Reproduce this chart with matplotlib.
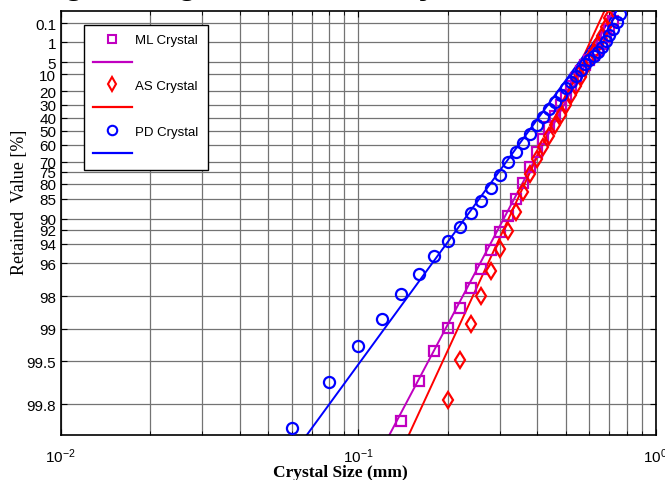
import numpy as np
import matplotlib
matplotlib.use("Agg")
import matplotlib.pyplot as plt
from matplotlib.lines import Line2D
from matplotlib.ticker import FixedLocator, FixedFormatter, LogLocator, NullFormatter

# sieve sizes (mm) and retained values (%)
pd_size = [0.06, 0.08, 0.10, 0.12, 0.14, 0.16, 0.18, 0.20, 0.22, 0.24, 0.26, 0.28,
           0.30, 0.32, 0.34, 0.36, 0.38, 0.40, 0.42, 0.44, 0.46, 0.48, 0.50, 0.52,
           0.54, 0.56, 0.58, 0.60, 0.62, 0.64, 0.66, 0.68, 0.70, 0.72, 0.74, 0.76]
pd_ret = [99.88, 99.68, 99.31, 98.76, 97.91, 96.81, 95.38, 93.70, 91.59, 88.69, 85.58, 81.70,
          76.23, 70.32, 64.30, 58.40, 52.11, 45.79, 39.58, 33.30, 27.48, 22.32, 17.86, 13.81,
          10.54, 7.75, 5.63, 4.36, 3.29, 2.33, 1.53, 0.91, 0.475, 0.229, 0.086, 0.023]

ml_size = [0.14, 0.16, 0.18, 0.20, 0.22, 0.24, 0.26, 0.28, 0.30, 0.32, 0.34, 0.36,
           0.38, 0.40, 0.42, 0.44, 0.46, 0.48, 0.50, 0.52, 0.54, 0.56, 0.58, 0.60,
           0.62, 0.64, 0.66, 0.68, 0.70, 0.72]
ml_ret = [99.86, 99.67, 99.37, 98.99, 98.45, 97.63, 96.46, 94.73, 92.36, 89.42, 85.15, 79.75,
          72.72, 64.46, 56.03, 47.28, 38.77, 30.17, 22.66, 16.55, 11.83, 8.40, 5.97, 4.36,
          3.06, 2.06, 1.215, 0.595, 0.229, 0.074]

as_size = [0.20, 0.22, 0.24, 0.26, 0.28, 0.30, 0.32, 0.34, 0.36, 0.38, 0.40, 0.42,
           0.44, 0.46, 0.48, 0.50, 0.52, 0.54, 0.56, 0.58, 0.60, 0.62, 0.64, 0.66,
           0.68, 0.70]
as_ret = [99.78, 99.48, 98.89, 97.98, 96.61, 94.63, 92.16, 88.60, 83.07, 76.02, 68.53, 61.38,
          53.93, 45.79, 38.00, 30.17, 22.66, 16.55, 11.31, 7.13, 4.36, 2.43, 1.215, 0.534,
          0.175, 0.046]

# Rosin-Rammler fit lines: characteristic size x0 (mm) and uniformity n
ml_fit = (0.475, 5.22)
as_fit = (0.467, 5.98)
pd_fit = (0.414, 3.78)

yticks = [0.1, 1, 5, 10, 20, 30, 40, 50, 60, 70, 75, 80, 85, 90, 92, 94, 96, 98, 99, 99.5, 99.8]
ytick_labels = ["0.1", "1", "5", "10", "20", "30", "40", "50", "60", "70", "75", "80", "85",
                "90", "92", "94", "96", "98", "99", "99.5", "99.8"]


def rr_forward(r):
    r = np.clip(np.asarray(r, dtype=float), 1e-9, 100 - 1e-9) / 100.0
    return -np.log(-np.log(r))


def rr_inverse(t):
    return 100.0 * np.exp(-np.exp(-np.asarray(t, dtype=float)))


def rr_line(x, fit):
    x0, n = fit
    return 100.0 * np.exp(-((x / x0) ** n))


plt.rcParams["font.family"] = ["Liberation Sans", "DejaVu Sans"]
plt.rcParams["mathtext.default"] = "regular"

fig = plt.figure(figsize=(6.65, 4.81), dpi=100)
ax = fig.add_axes([60.5 / 665, 1 - 436 / 481, 595 / 665, 424 / 481])

ax.set_xscale("log")
ax.set_yscale("function", functions=(rr_forward, rr_inverse))

xs = np.logspace(-2, 0, 600)
series = [
    (ml_size, ml_ret, ml_fit, "#c000c0", "s", 7.5, "ML Crystal"),
    (as_size, as_ret, as_fit, "#ff0000", "d", 8.5, "AS Crystal"),
    (pd_size, pd_ret, pd_fit, "#0000ff", "o", 8, "PD Crystal"),
]
handles, labels = [], []
for size, ret, fit, col, mk, ms, name in series:
    ax.plot(size, ret, ls="none", marker=mk, ms=ms, mfc="none", mec=col, mew=1.6, zorder=3)
    ax.plot(xs, rr_line(xs, fit), color=col, lw=1.4, zorder=2)
    handles.append(Line2D([], [], ls="none", marker=mk, ms=ms * 0.85,
                          mfc="none", mec=col, mew=1.5))
    labels.append(name)
    handles.append(Line2D([], [], color=col, lw=1.6))
    labels.append(" ")

ax.set_xlim(0.01, 1)
ax.set_ylim(99.896, 0.0132)

ax.yaxis.set_major_locator(FixedLocator(yticks))
ax.yaxis.set_major_formatter(FixedFormatter(ytick_labels))
ax.yaxis.set_minor_locator(FixedLocator([]))
ax.xaxis.set_major_locator(FixedLocator([0.01, 0.1, 1]))
ax.xaxis.set_major_formatter(FixedFormatter(["$10^{-2}$", "$10^{-1}$", "$10^{0}$"]))
ax.xaxis.set_minor_locator(LogLocator(base=10, subs=np.arange(2, 10)))
ax.xaxis.set_minor_formatter(NullFormatter())

ax.grid(True, which="major", color="0.45", lw=0.9)
ax.grid(True, which="minor", axis="x", color="0.45", lw=0.9)
ax.tick_params(which="both", direction="in", top=True, right=True, labelsize=11,
               colors="black")
ax.tick_params(which="major", length=4)
ax.tick_params(which="minor", length=3)
ax.tick_params(axis="x", pad=8)
ax.tick_params(axis="y", pad=3)
for s in ax.spines.values():
    s.set_linewidth(1.2)

ax.set_xlabel("Crystal Size (mm)", family="Liberation Serif", fontweight="bold",
              fontsize=12.5)
ax.xaxis.set_label_coords(0.47, -0.068)
ax.set_ylabel("Retained  Value [%]", family="Liberation Serif", fontsize=13)
ax.yaxis.set_label_coords(-0.054, 0.55)

leg = ax.legend(handles, labels, loc="upper left", bbox_to_anchor=(84 / 665, 1 - 26 / 481),
                bbox_transform=fig.transFigure, borderaxespad=0, fancybox=False,
                edgecolor="black", framealpha=1, fontsize=9.5, handlelength=2.9,
                labelspacing=0.8, handletextpad=0.3, borderpad=0.7, numpoints=1)
leg.get_frame().set_linewidth(1.0)

# title, clipped by the top edge of the figure (only its descenders show)
fig.text(5 / 665, 1.013, "Weight Diagram for the Crystal Size", fontsize=24,
         fontweight="bold", ha="left", va="baseline")

fig.savefig("out.png", dpi=100)
